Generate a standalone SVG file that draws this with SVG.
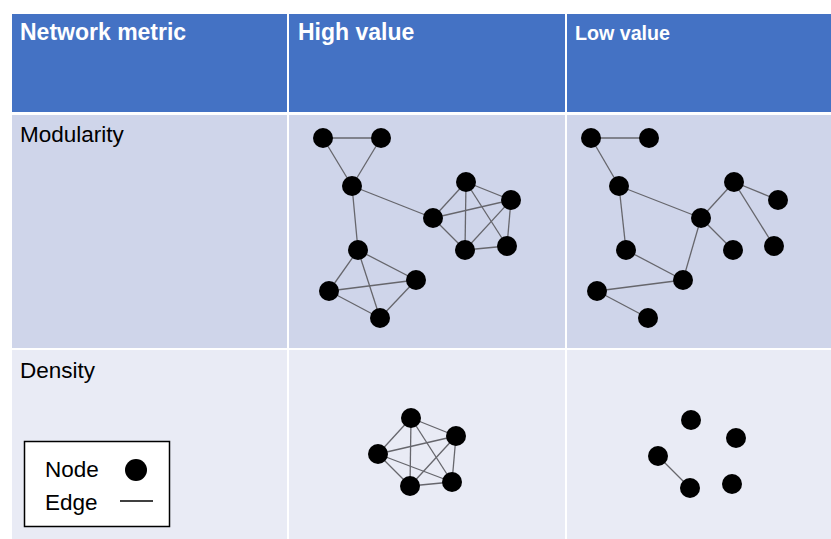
<svg xmlns="http://www.w3.org/2000/svg" width="831" height="539" viewBox="0 0 831 539">
  <style>
    .hdr { fill: #4472C4; }
    .row1 { fill: #CFD5EA; }
    .row2 { fill: #E9EBF5; }
    .htxt { font-family: "Liberation Sans", Arial, sans-serif; font-weight: bold; fill: #FFFFFF; font-size: 23px; }
    .rtxt { font-family: "Liberation Sans", Arial, sans-serif; fill: #000000; font-size: 22.5px; }
    .ltxt { font-family: "Liberation Sans", Arial, sans-serif; fill: #000000; font-size: 22.5px; }
    .edge { stroke: #66666c; stroke-width: 1.3; fill: none; }
    .node { fill: #000000; }
  </style>

  <rect width="831" height="539" fill="#FFFFFF"/>

  <!-- table cells -->
  <g id="table">
    <rect class="hdr" x="12" y="14" width="275" height="98"/>
    <rect class="hdr" x="289" y="14" width="276" height="98"/>
    <rect class="hdr" x="567" y="14" width="264" height="98"/>
    <rect class="row1" x="12" y="115" width="275" height="233"/>
    <rect class="row1" x="289" y="115" width="276" height="233"/>
    <rect class="row1" x="567" y="115" width="264" height="233"/>
    <rect class="row2" x="12" y="350" width="275" height="189"/>
    <rect class="row2" x="289" y="350" width="276" height="189"/>
    <rect class="row2" x="567" y="350" width="264" height="189"/>
  </g>

  <g id="labels">
    <text class="htxt" x="20" y="40">Network metric</text>
    <text class="htxt" x="298" y="40">High value</text>
    <text class="htxt" x="575" y="39.5" style="font-size:20.5px" textLength="95" lengthAdjust="spacingAndGlyphs">Low value</text>
    <text class="rtxt" x="20" y="141.5">Modularity</text>
    <text class="rtxt" x="20" y="378">Density</text>
  </g>

  <!-- connectors -->
  <g id="edges">
    <!-- modularity, high -->
    <line class="edge" x1="323" y1="138" x2="381" y2="138"/>
    <line class="edge" x1="323" y1="138" x2="352" y2="186"/>
    <line class="edge" x1="381" y1="138" x2="352" y2="186"/>
    <line class="edge" x1="352" y1="186" x2="433" y2="218"/>
    <line class="edge" x1="352" y1="186" x2="358" y2="250"/>
    <line class="edge" x1="433" y1="218" x2="466" y2="182"/>
    <line class="edge" x1="433" y1="218" x2="511" y2="200"/>
    <line class="edge" x1="433" y1="218" x2="465" y2="250"/>
    <line class="edge" x1="466" y1="182" x2="511" y2="200"/>
    <line class="edge" x1="466" y1="182" x2="465" y2="250"/>
    <line class="edge" x1="466" y1="182" x2="507" y2="246"/>
    <line class="edge" x1="511" y1="200" x2="465" y2="250"/>
    <line class="edge" x1="511" y1="200" x2="507" y2="246"/>
    <line class="edge" x1="465" y1="250" x2="507" y2="246"/>
    <line class="edge" x1="358" y1="250" x2="416" y2="280"/>
    <line class="edge" x1="358" y1="250" x2="329" y2="291"/>
    <line class="edge" x1="358" y1="250" x2="380" y2="318"/>
    <line class="edge" x1="329" y1="291" x2="416" y2="280"/>
    <line class="edge" x1="329" y1="291" x2="380" y2="318"/>
    <line class="edge" x1="380" y1="318" x2="416" y2="280"/>
    <!-- modularity, low -->
    <line class="edge" x1="591" y1="138" x2="649" y2="138"/>
    <line class="edge" x1="591" y1="138" x2="619" y2="186"/>
    <line class="edge" x1="619" y1="186" x2="701" y2="218"/>
    <line class="edge" x1="619" y1="186" x2="626" y2="250"/>
    <line class="edge" x1="701" y1="218" x2="734" y2="182"/>
    <line class="edge" x1="701" y1="218" x2="733" y2="250"/>
    <line class="edge" x1="701" y1="218" x2="683" y2="280"/>
    <line class="edge" x1="734" y1="182" x2="778" y2="200"/>
    <line class="edge" x1="734" y1="182" x2="774" y2="246"/>
    <line class="edge" x1="626" y1="250" x2="683" y2="280"/>
    <line class="edge" x1="597" y1="291" x2="683" y2="280"/>
    <line class="edge" x1="597" y1="291" x2="648" y2="318"/>
    <!-- density, high -->
    <line class="edge" x1="411" y1="418" x2="456" y2="436"/>
    <line class="edge" x1="411" y1="418" x2="378" y2="454"/>
    <line class="edge" x1="411" y1="418" x2="410" y2="486"/>
    <line class="edge" x1="411" y1="418" x2="452" y2="482"/>
    <line class="edge" x1="456" y1="436" x2="378" y2="454"/>
    <line class="edge" x1="456" y1="436" x2="410" y2="486"/>
    <line class="edge" x1="456" y1="436" x2="452" y2="482"/>
    <line class="edge" x1="378" y1="454" x2="410" y2="486"/>
    <line class="edge" x1="378" y1="454" x2="452" y2="482"/>
    <line class="edge" x1="410" y1="486" x2="452" y2="482"/>
    <!-- density, low -->
    <line class="edge" x1="658" y1="456" x2="690" y2="488"/>
  </g>

  <!-- nodes -->
  <g id="mod-high">
    <circle class="node" cx="323" cy="138" r="10"/>
    <circle class="node" cx="381" cy="138" r="10"/>
    <circle class="node" cx="352" cy="186" r="10"/>
    <circle class="node" cx="466" cy="182" r="10"/>
    <circle class="node" cx="511" cy="200" r="10"/>
    <circle class="node" cx="433" cy="218" r="10"/>
    <circle class="node" cx="465" cy="250" r="10"/>
    <circle class="node" cx="507" cy="246" r="10"/>
    <circle class="node" cx="358" cy="250" r="10"/>
    <circle class="node" cx="416" cy="280" r="10"/>
    <circle class="node" cx="329" cy="291" r="10"/>
    <circle class="node" cx="380" cy="318" r="10"/>
  </g>
  <g id="mod-low">
    <circle class="node" cx="591" cy="138" r="10"/>
    <circle class="node" cx="649" cy="138" r="10"/>
    <circle class="node" cx="619" cy="186" r="10"/>
    <circle class="node" cx="734" cy="182" r="10"/>
    <circle class="node" cx="778" cy="200" r="10"/>
    <circle class="node" cx="701" cy="218" r="10"/>
    <circle class="node" cx="733" cy="250" r="10"/>
    <circle class="node" cx="774" cy="246" r="10"/>
    <circle class="node" cx="626" cy="250" r="10"/>
    <circle class="node" cx="683" cy="280" r="10"/>
    <circle class="node" cx="597" cy="291" r="10"/>
    <circle class="node" cx="648" cy="318" r="10"/>
  </g>
  <g id="dens-high">
    <circle class="node" cx="411" cy="418" r="10"/>
    <circle class="node" cx="456" cy="436" r="10"/>
    <circle class="node" cx="378" cy="454" r="10"/>
    <circle class="node" cx="410" cy="486" r="10"/>
    <circle class="node" cx="452" cy="482" r="10"/>
  </g>
  <g id="dens-low">
    <circle class="node" cx="691" cy="420" r="10"/>
    <circle class="node" cx="736" cy="438" r="10"/>
    <circle class="node" cx="658" cy="456" r="10"/>
    <circle class="node" cx="690" cy="488" r="10"/>
    <circle class="node" cx="732" cy="484" r="10"/>
  </g>

  <!-- legend -->
  <g id="legend">
    <rect x="24.5" y="441.5" width="145" height="85" fill="#FFFFFF" stroke="#000000" stroke-width="1.5"/>
    <text class="ltxt" x="45" y="477">Node</text>
    <text class="ltxt" x="45" y="510">Edge</text>
    <circle class="node" cx="136" cy="470" r="11"/>
    <line x1="120" y1="501" x2="153" y2="501" stroke="#000000" stroke-width="1.5"/>
  </g>
</svg>
